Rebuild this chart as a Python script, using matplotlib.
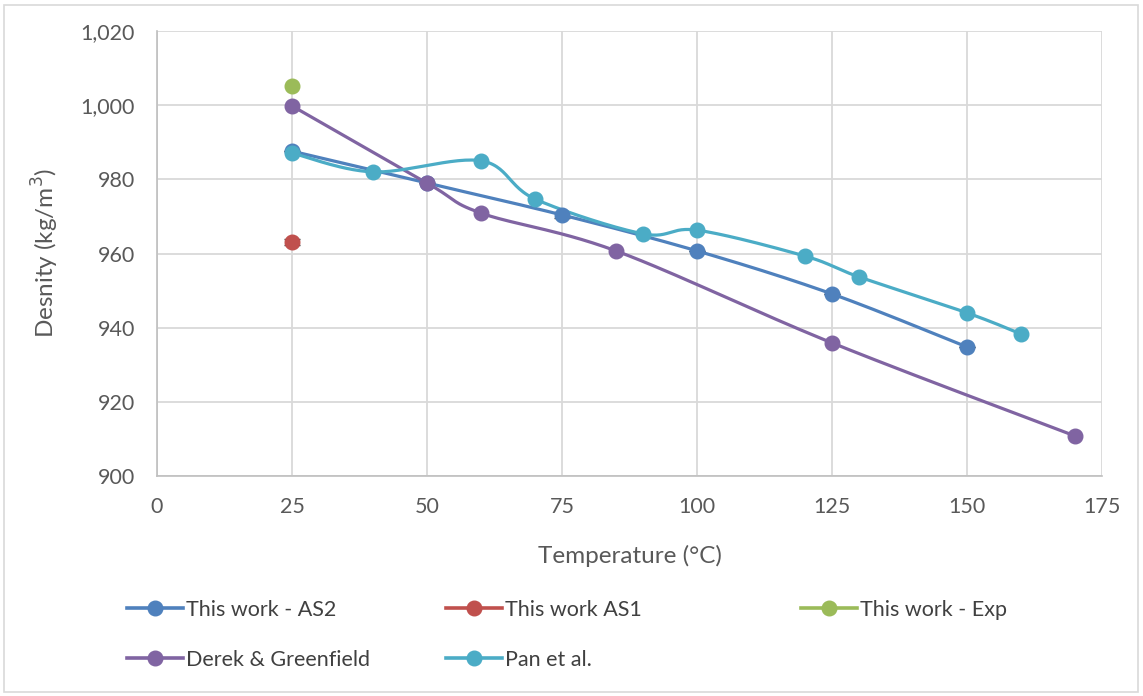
import numpy as np
import matplotlib
matplotlib.use("Agg")
import matplotlib.pyplot as plt
from matplotlib.lines import Line2D

plt.rcParams['font.family'] = ['Lato', 'DejaVu Sans']

# data
as2_t = [25, 50, 75, 100, 125, 150]
as2_d = [987.6, 979.0, 970.4, 960.7, 949.1, 934.8]
as2_err = [0, 0, 0.8, 0, 0, 0]
as1_t = [25]
as1_d = [963.1]
as1_err = [0.8]
exp_t = [25]
exp_d = [1005.2]
derek_t = [25, 50, 60, 85, 125, 170]
derek_d = [999.8, 979.0, 970.9, 960.7, 935.9, 910.8]
pan_t = [25, 40, 60, 70, 90, 100, 120, 130, 150, 160]
pan_d = [987.1, 982.0, 985.0, 974.7, 965.3, 966.3, 959.3, 953.7, 944.0, 938.3]

labels = ["This work - AS2", "This work AS1", "This work - Exp",
          "Derek & Greenfield", "Pan et al."]
colors = ["#4F81BD", "#C0504D", "#9BBB59", "#8064A2", "#4BACC6"]

XMIN, XMAX, YMIN, YMAX = 0, 175, 900, 1020
SX, SY = 945.0 / (XMAX - XMIN), 445.0 / (YMAX - YMIN)  # px per unit


def smooth(x, y, n=30):
    # excel-like smoothing: catmull-rom bezier in pixel space
    x = np.asarray(x, float) * SX
    y = np.asarray(y, float) * SY
    if len(x) < 3:
        return x / SX, y / SY
    px, py = [], []
    for i in range(len(x) - 1):
        x0, y0 = (x[i - 1], y[i - 1]) if i > 0 else (x[i], y[i])
        x3, y3 = (x[i + 2], y[i + 2]) if i + 2 < len(x) else (x[i + 1], y[i + 1])
        x1, y1, x2, y2 = x[i], y[i], x[i + 1], y[i + 1]
        c1x, c1y = x1 + (x2 - x0) / 6, y1 + (y2 - y0) / 6
        c2x, c2y = x2 - (x3 - x1) / 6, y2 - (y3 - y1) / 6
        t = np.linspace(0, 1, n)
        bx = (1-t)**3*x1 + 3*(1-t)**2*t*c1x + 3*(1-t)*t**2*c2x + t**3*x2
        by = (1-t)**3*y1 + 3*(1-t)**2*t*c1y + 3*(1-t)*t**2*c2y + t**3*y2
        px.extend(bx); py.extend(by)
    return np.array(px) / SX, np.array(py) / SY


fig = plt.figure(figsize=(11.43, 6.96), dpi=100)
ax = fig.add_axes([157/1143, 1 - 476/696, 945/1143, 445/696])

series = [(as2_t, as2_d), (as1_t, as1_d), (exp_t, exp_d),
          (derek_t, derek_d), (pan_t, pan_d)]
ax.errorbar(as2_t, as2_d, yerr=as2_err, fmt='none', ecolor='#404040',
            elinewidth=1, capsize=6, zorder=2)
ax.errorbar(as1_t, as1_d, yerr=as1_err, fmt='none', ecolor='#404040',
            elinewidth=1, capsize=6, zorder=2)
for (t, d), c in zip(series, colors):
    sx, sy = smooth(t, d)
    ax.plot(sx, sy, color=c, lw=2.3, zorder=3, solid_capstyle='round')
    ax.plot(t, d, 'o', color=c, ms=10.5, zorder=4)

ax.set_xlim(XMIN, XMAX)
ax.set_ylim(YMIN, YMAX)
ax.set_xticks(np.arange(0, 176, 25))
ax.set_yticks(np.arange(900, 1021, 20))
ax.set_yticklabels([f"{v:,}" for v in range(900, 1021, 20)])
ax.grid(True, color='#D9D9D9', lw=1.3)
ax.set_axisbelow(True)
for s in ['top', 'right']:
    ax.spines[s].set_visible(False)
for s in ['left', 'bottom']:
    ax.spines[s].set_color('#BFBFBF')
    ax.spines[s].set_linewidth(1.2)
ax.tick_params(length=0, labelsize=15.5, colors='#595959')
ax.tick_params(axis='y', pad=16)
ax.tick_params(axis='x', pad=15)
ax.set_xlabel("Temperature (°C)", fontsize=17.5, color='#595959', labelpad=20)
ax.set_ylabel("Desnity (kg/m$^3$)", fontsize=17.5, color='#595959', labelpad=14)

# legend: three columns at fixed positions
cols = [[0, 3], [1, 4], [2]]
col_x = [118, 437, 792]
for idx, cx in zip(cols, col_x):
    hs = [Line2D([], [], color=colors[i], lw=2.6, marker='o', ms=10.5)
          for i in idx]
    leg = fig.legend(hs, [labels[i] for i in idx], loc='upper left',
                     bbox_to_anchor=(cx/1143, 1 - 591/696), frameon=False,
                     fontsize=15.5, handlelength=2.6, handletextpad=0.15,
                     labelspacing=1.4, borderaxespad=0)
    for tx in leg.get_texts():
        tx.set_color('#404040')

fig.patches.append(plt.Rectangle((4/1143, 4/696), 1 - 9/1143, 1 - 9/696,
                                 transform=fig.transFigure, fill=False,
                                 edgecolor='#D9D9D9', lw=1.2))
fig.savefig("out.png", dpi=100)
